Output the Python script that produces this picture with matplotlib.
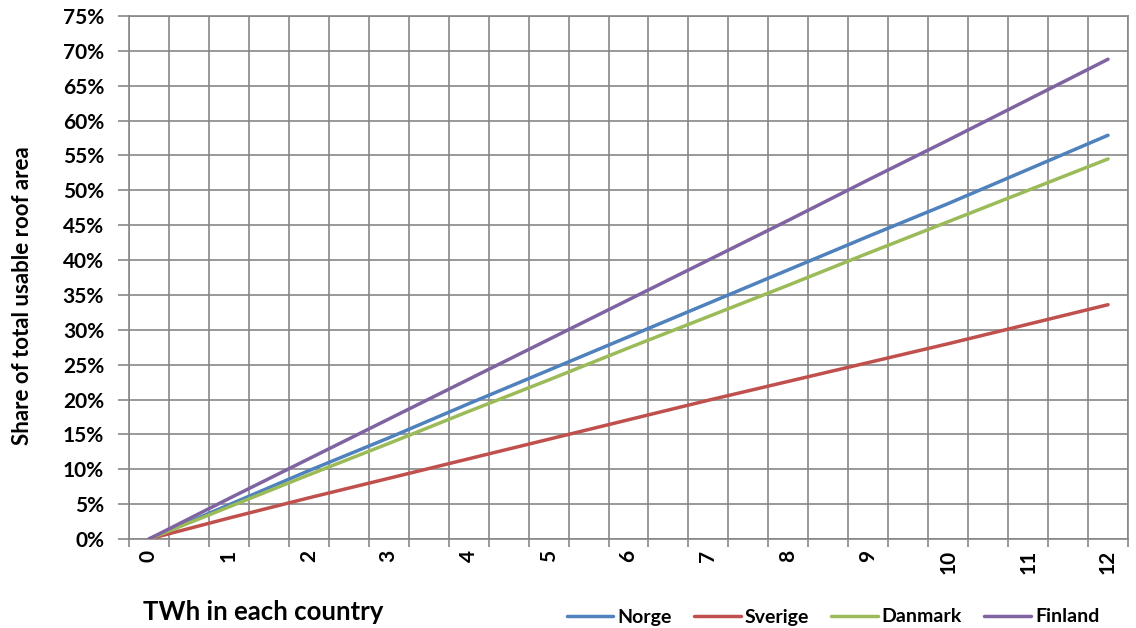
import matplotlib
matplotlib.use("Agg")
import matplotlib.pyplot as plt
import numpy as np
from matplotlib.ticker import FixedLocator, PercentFormatter

# TWh produced in each country vs share of usable roof area needed (%)
twh = [0, 1, 2, 3, 4, 5, 6, 7, 8, 9, 10, 11, 12]
norge = [0, 4.9, 9.8, 14.5, 19.4, 24.2, 29.0, 33.8, 38.6, 43.4, 48.1, 53.0, 57.9]
sverige = [0, 3.0, 5.9, 8.7, 11.5, 14.3, 17.1, 19.9, 22.6, 25.3, 28.0, 30.8, 33.6]
danmark = [0, 4.6, 9.2, 13.7, 18.3, 22.8, 27.4, 31.9, 36.4, 41.0, 45.5, 50.0, 54.5]
finland = [0, 5.8, 11.5, 17.2, 22.9, 28.6, 34.3, 40.0, 45.7, 51.5, 57.2, 63.0, 68.8]

series = [
    ("Norge", norge, "#4F81BD"),
    ("Sverige", sverige, "#C0504D"),
    ("Danmark", danmark, "#9BBB59"),
    ("Finland", finland, "#8064A2"),
]

plt.rcParams["font.family"] = ["Lato", "DejaVu Sans"]
plt.rcParams["font.weight"] = "bold"
grid_col = "#878787"

fig = plt.figure(figsize=(11.36, 6.28), dpi=100)
ax = fig.add_axes([129 / 1136, 1 - 539 / 628, 999 / 1136, 523 / 628])

for name, vals, col in series:
    ax.plot(twh, vals, color=col, lw=2.5, label=name, solid_capstyle="round", zorder=3)

# category boundaries sit halfway between the half-TWh steps
ax.set_xlim(-0.25, 12.25)
ax.set_ylim(0, 75)
bounds = np.arange(-0.25, 12.26, 0.5)
ax.xaxis.set_minor_locator(FixedLocator(bounds))
ax.set_xticks(twh)
ax.set_xticklabels([str(t) for t in twh], rotation=90, fontsize=15, fontweight="bold")
ax.tick_params(axis="x", which="major", length=0, pad=8)
ax.tick_params(axis="x", which="minor", length=6, color=grid_col, width=1.2)
ax.grid(axis="x", which="minor", color=grid_col, lw=1.2)

ax.set_yticks(np.arange(0, 76, 5))
ax.yaxis.set_major_formatter(PercentFormatter(decimals=0))
ax.tick_params(axis="y", length=8, color=grid_col, width=1.2, labelsize=15, pad=10)
for lbl in ax.get_yticklabels():
    lbl.set_fontweight("bold")
ax.grid(axis="y", color=grid_col, lw=1.2)
ax.set_axisbelow(True)

for sp in ax.spines.values():
    sp.set_color(grid_col)
    sp.set_linewidth(1.2)

fig.text(23 / 1136, 1 - 296 / 628, "Share of total usable roof area", fontsize=16,
         fontweight="bold", rotation=90, ha="center", va="center")
fig.text(143 / 1136, 1 - 612 / 628, "TWh in each country", fontsize=18.5,
         fontweight="bold", ha="left", va="center")

fig.legend(loc="center", bbox_to_anchor=(833 / 1136, 1 - 617 / 628), ncol=4,
           frameon=False, handlelength=2.4, handletextpad=0.2,
           columnspacing=1.15, prop={"weight": "bold", "size": 14})

fig.savefig("out.png", dpi=100)
